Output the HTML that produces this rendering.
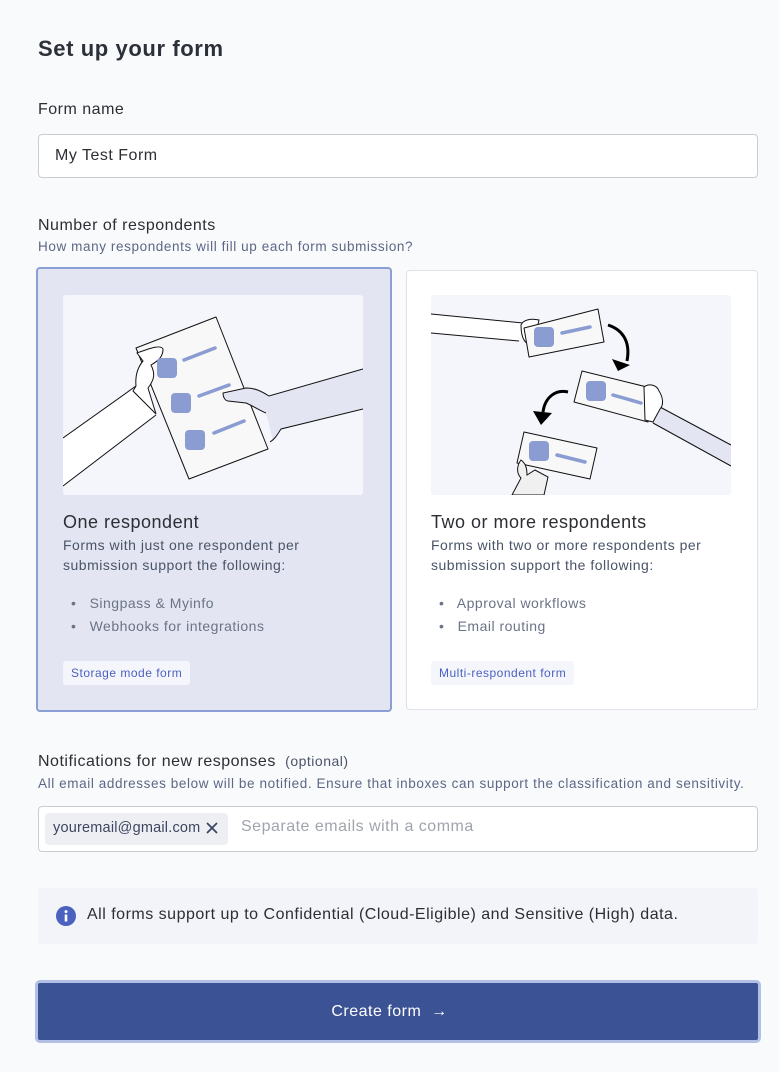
<!DOCTYPE html>
<html><head><meta charset="utf-8"><style>
*{box-sizing:border-box;margin:0;padding:0}
body{width:779px;height:1072px;background:#f9fafc;font-family:"Liberation Sans",sans-serif;color:#2c2e34;position:relative;overflow:hidden;letter-spacing:0.5px}
.a{position:absolute;white-space:nowrap}
.t{font-size:22px;font-weight:bold;color:#2c3038;letter-spacing:0.6px}
.lbl{font-size:16px;color:#2c2e34}
.sub{font-size:13.5px;color:#5d6785;letter-spacing:0.6px}
.inp{background:#fff;border:1px solid #c9ccd2;border-radius:4px}
.card{border-radius:4px}
.ct{font-size:18px;color:#2c2e34}
.cd{font-size:14px;color:#4a5468;line-height:20px}
.bl{font-size:14px;color:#6b7386}
.chip{background:#f5f6fb;color:#4a61c0;font-size:12px;border-radius:3px;padding:0 8px;height:24px;line-height:24px}
</style></head><body>
<div class="a t" style="left:38px;top:36px">Set up your form</div>
<div class="a lbl" style="left:38px;top:101px">Form name</div>
<div class="a inp" style="left:38px;top:134px;width:720px;height:44px"></div>
<div class="a" style="left:55px;top:147px;font-size:16px">My Test Form</div>
<div class="a lbl" style="left:38px;top:217px">Number of respondents</div>
<div class="a sub" style="left:38px;top:239px">How many respondents will fill up each form submission?</div>

<div class="a card" style="left:36px;top:267px;width:356px;height:445px;background:#e3e6f2;border:2px solid #8b9fd4"></div>
<svg class="a" style="left:63px;top:295px" width="300" height="200" viewBox="0 0 300 200">
<rect width="300" height="200" rx="3" fill="#f5f6fb"/>
<path d="M0 143 L73 91 L93 119 L0 191 Z" fill="#fff"/>
<path d="M0 143 L73 91 M0 191 L93 120" stroke="#111" stroke-width="1" fill="none"/>
<polygon points="73,53 153,22 205,154 126,184" fill="#f8f8f8" stroke="#111" stroke-width="1" stroke-linejoin="round"/>
<path d="M73 91 C72 80 75 72 80 66 L74 58 C90 52 98 50 100 54 C100 62 95 66 88 70 C92 78 92 84 85 93 L93 119 L70 96 Z" fill="#fff" stroke="#111" stroke-width="1"/>
<rect x="94" y="63" width="20" height="20" rx="4" fill="#8a9cd2"/>
<rect x="108" y="98" width="20" height="20" rx="4" fill="#8a9cd2"/>
<rect x="122" y="135" width="20" height="20" rx="4" fill="#8a9cd2"/>
<g stroke="#8a9cd2" stroke-width="3.5" stroke-linecap="round"><line x1="121" y1="65" x2="152" y2="53"/><line x1="136" y1="101" x2="166" y2="90"/><line x1="151" y1="138" x2="181" y2="126"/></g>
<path d="M300 74 L206 101 C198 96 192 93 183 93 L160 98 C160 103 163 106 165 106 L183 108 C192 112 198 116 203 118 L210 146 C214 140 216 137 218 134 L300 114 Z" fill="#e3e6f2"/>
<path d="M300 74 L206 101 C198 96 192 93 183 93 L160 98 C160 103 163 106 165 106 L183 108 C192 112 198 116 203 118 M300 114 L218 134 C214 140 212 144 207 147" stroke="#111" stroke-width="1" fill="none"/>
</svg>
<div class="a ct" style="left:63px;top:512px">One respondent</div>
<div class="a cd" style="left:63px;top:535px">Forms with just one respondent per<br>submission support the following:</div>
<div class="a bl" style="left:71px;top:595px">•&nbsp;&nbsp; Singpass &amp; Myinfo</div>
<div class="a bl" style="left:71px;top:618px">•&nbsp;&nbsp; Webhooks for integrations</div>
<div class="a chip" style="left:63px;top:661px">Storage mode form</div>

<div class="a card" style="left:406px;top:270px;width:352px;height:440px;background:#fff;border:1px solid #dfe1e6"></div>
<svg class="a" style="left:431px;top:295px" width="300" height="200" viewBox="0 0 300 200">
<rect width="300" height="200" rx="3" fill="#f5f6fb"/>
<path d="M0 19 L92 28 L88 46 L0 38 Z" fill="#fff"/>
<path d="M0 19 L92 28 M0 38 L88 46" stroke="#111" stroke-width="1" fill="none"/>
<path d="M90 30 C92 25 100 23 108 25 L102 50 C95 50 90 45 90 30 Z" fill="#fff" stroke="#111" stroke-width="1"/>
<polygon points="93,33 167,14 173,47 98,62" fill="#f8f8f8" stroke="#111" stroke-width="1" stroke-linejoin="round"/>
<rect x="103" y="32" width="20" height="20" rx="4" fill="#8a9cd2"/>
<line x1="131" y1="38" x2="159" y2="32" stroke="#8a9cd2" stroke-width="3.5" stroke-linecap="round"/>
<path d="M177 30 C190 34 200 45 196 66" stroke="#000" stroke-width="3" fill="none"/>
<polygon points="181,64 199,70 187,76" fill="#000"/>
<path d="M229 112 L300 150 L300 171 L222 128 Z" fill="#e3e6f2"/>
<path d="M229 112 L300 150 M222 128 L300 171" stroke="#111" stroke-width="1" fill="none"/>
<polygon points="151,76 224,94 217,127 143,107" fill="#f8f8f8" stroke="#111" stroke-width="1" stroke-linejoin="round"/>
<path d="M213 92 C218 88 226 90 228 96 C232 102 233 110 229 114 L222 127 L214 125 Z" fill="#fff" stroke="#111" stroke-width="1"/>
<rect x="155" y="86" width="20" height="20" rx="4" fill="#8a9cd2"/>
<line x1="182" y1="100" x2="210" y2="108" stroke="#8a9cd2" stroke-width="3.5" stroke-linecap="round"/>
<path d="M137 97 C125 94 114 102 112 117" stroke="#000" stroke-width="3" fill="none"/>
<polygon points="102,116 121,118 110,130" fill="#000"/>
<polygon points="93,137 166,153 159,184 86,168" fill="#f8f8f8" stroke="#111" stroke-width="1" stroke-linejoin="round"/>
<rect x="98" y="146" width="20" height="20" rx="4" fill="#8a9cd2"/>
<line x1="126" y1="160" x2="154" y2="167" stroke="#8a9cd2" stroke-width="3.5" stroke-linecap="round"/>
<path d="M81 200 L90 183 C85 178 86 170 90 165 C94 168 96 172 96 180 L104 175 L117 182 L113 200 Z" fill="#f0f0f0" stroke="#111" stroke-width="1"/>
</svg>
<div class="a ct" style="left:431px;top:512px">Two or more respondents</div>
<div class="a cd" style="left:431px;top:535px">Forms with two or more respondents per<br>submission support the following:</div>
<div class="a bl" style="left:439px;top:595px">•&nbsp;&nbsp; Approval workflows</div>
<div class="a bl" style="left:439px;top:618px">•&nbsp;&nbsp; Email routing</div>
<div class="a chip" style="left:431px;top:661px">Multi-respondent form</div>

<div class="a lbl" style="left:38px;top:753px">Notifications for new responses <span style="font-size:14px;color:#4a5468">&nbsp;(optional)</span></div>
<div class="a sub" style="left:38px;top:776px">All email addresses below will be notified. Ensure that inboxes can support the classification and sensitivity.</div>
<div class="a inp" style="left:38px;top:806px;width:720px;height:46px"></div>
<div class="a" style="left:45px;top:813px;width:183px;height:32px;background:#edeff3;border-radius:4px"></div>
<div class="a" style="left:53px;top:820px;font-size:14.5px;color:#3d4660;letter-spacing:0.2px">youremail@gmail.com</div>
<svg class="a" style="left:206px;top:822px" width="12" height="12"><path d="M1 1L11 11M11 1L1 11" stroke="#3d4660" stroke-width="1.8"/></svg>
<div class="a" style="left:241px;top:818px;font-size:16px;color:#a0a4ad">Separate emails with a comma</div>

<div class="a" style="left:38px;top:888px;width:720px;height:56px;background:#f2f4f9;border-radius:3px"></div>
<svg class="a" style="left:56px;top:906px" width="20" height="20"><circle cx="10" cy="10" r="10" fill="#4a61c0"/><rect x="8.7" y="8.5" width="2.6" height="7" fill="#fff"/><circle cx="10" cy="5.6" r="1.5" fill="#fff"/></svg>
<div class="a" style="left:87px;top:906px;font-size:16px;color:#2c2e34">All forms support up to Confidential (Cloud-Eligible) and Sensitive (High) data.</div>

<div class="a" style="left:35px;top:980px;width:726px;height:63px;border:3px solid #b3c0e6;border-radius:5px;background:#3b5295"></div>
<div class="a" style="left:0;width:779px;top:1003px;text-align:center;color:#fff;font-size:16px">Create form &nbsp;→</div>
</body></html>
